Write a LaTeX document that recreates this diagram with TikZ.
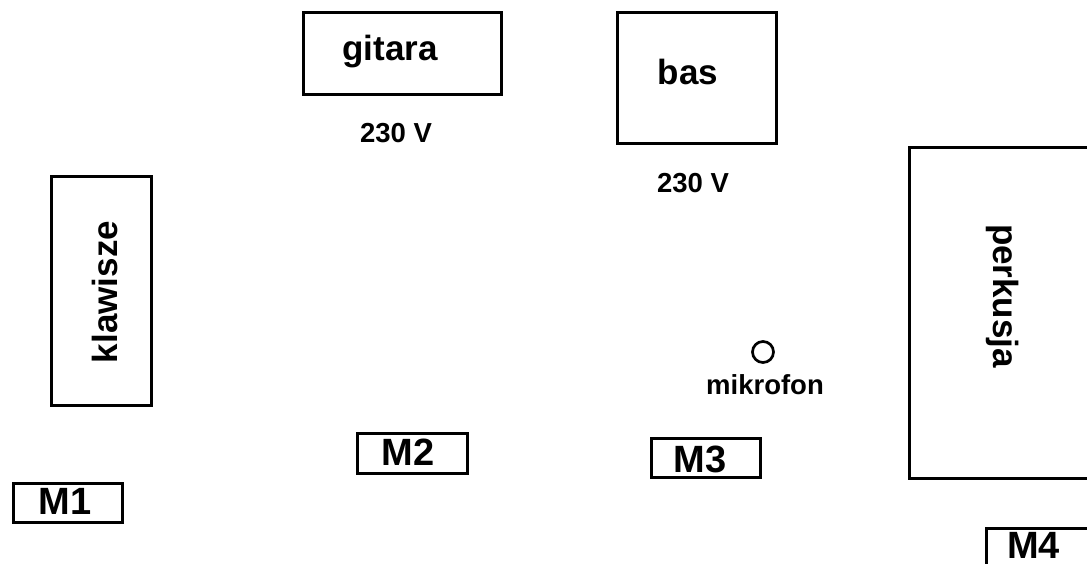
\documentclass[tikz,border=0pt]{standalone}
\usepackage{fontspec}
\setmainfont{Liberation Sans}
\begin{document}
\begin{tikzpicture}[x=1pt,y=-1pt,
  box/.style={draw=black,line width=3.3pt,inner sep=0pt,anchor=north west},
  big/.style={font=\bfseries\fontsize{35}{37}\selectfont,inner sep=0pt},
  mlab/.style={font=\bfseries\fontsize{38}{40}\selectfont,inner sep=0pt},
  small/.style={font=\bfseries\fontsize{27.5}{29}\selectfont,inner sep=0pt}]
\useasboundingbox (0,0) rectangle (1087,564);
\clip (0,0) rectangle (1087,564);
% boxes
\node[box,minimum width=198pt,minimum height=82pt] (gitbox) at (302,11) {};
\node[box,minimum width=159pt,minimum height=131pt] (basbox) at (616,11) {};
\node[box,minimum width=100pt,minimum height=229pt] (klbox) at (50,175) {};
\node[box,minimum width=220pt,minimum height=331pt] (perbox) at (908,146) {};
\node[box,minimum width=109pt,minimum height=39pt] (m1box) at (12,482) {};
\node[box,minimum width=110pt,minimum height=40pt] (m2box) at (356,432) {};
\node[box,minimum width=109pt,minimum height=39pt] (m3box) at (650,437) {};
\node[box,minimum width=140pt,minimum height=60pt] (m4box) at (985,527) {};
% labels
\node[big] (git) at (390,52) {gitara};
\node[big] (bas) at (688,72) {bas};
\node[big,rotate=90] (kl) at (105,292) {klawisze};
\node[big,rotate=-90] (per) at (1003,296) {perkusja};
\node[mlab] (m1) at (65,501) {M1};
\node[mlab] (m2) at (408,452) {M2};
\node[mlab] (m3) at (700,459) {M3};
\node[mlab,anchor=north west] (m4) at (1007,532) {M4};
\node[small] (v1) at (396,133) {230 V};
\node[small] (v2) at (693,183) {230 V};
\node[draw=black,line width=2.7pt,circle,minimum size=21pt,inner sep=0pt] (mic) at (763,352) {};
\node[small] (mictxt) at (765,385) {mikrofon};
\end{tikzpicture}
\end{document}
